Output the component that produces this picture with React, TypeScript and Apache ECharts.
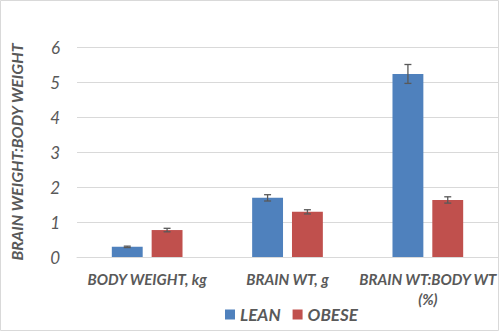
import React, { useEffect, useRef } from "react";
import * as echarts from "echarts";

const categories = ["BODY WEIGHT, kg", "BRAIN WT, g", "BRAIN WT:BODY WT\n(%)"];
const leanValues = [0.29, 1.69, 5.23];
const leanErrors = [0.02, 0.09, 0.27];
const obeseValues = [0.77, 1.29, 1.63];
const obeseErrors = [0.05, 0.06, 0.09];
const yTicks = [0, 1, 2, 3, 4, 5, 6];

const FONT = "Lato, 'Open Sans', sans-serif";
const TEXT = "#595959";
const BAR_W = 0.22;
const GAP = 0.29;

function errorSeries(values: number[], errors: number[], sign: number) {
  return {
    type: "custom",
    silent: true,
    z: 10,
    data: values.map((v, i) => [i, v - errors[i], v + errors[i]]),
    renderItem: (params: any, api: any) => {
      const idx = api.value(0);
      const lo = api.coord([idx, api.value(1)]);
      const hi = api.coord([idx, api.value(2)]);
      const bw = api.size([1, 0])[0];
      const off = (bw * BAR_W * (1 + GAP)) / 2;
      const x = lo[0] + sign * off;
      const cap = 3.5;
      const style = { stroke: "#595959", lineWidth: 1.3 };
      return {
        type: "group",
        children: [
          { type: "line", shape: { x1: x, y1: lo[1], x2: x, y2: hi[1] }, style },
          { type: "line", shape: { x1: x - cap, y1: lo[1], x2: x + cap, y2: lo[1] }, style },
          { type: "line", shape: { x1: x - cap, y1: hi[1], x2: x + cap, y2: hi[1] }, style },
        ],
      };
    },
  };
}

export default function App() {
  const ref = useRef<HTMLDivElement>(null);
  useEffect(() => {
    document.body.style.margin = "0";
    const chart = echarts.init(ref.current!, null, { renderer: "svg" });
    chart.setOption({
      animation: false,
      backgroundColor: "#ffffff",
      grid: { left: 72, right: 2, top: 47, bottom: 75 },
      legend: {
        left: 220,
        top: 301,
        itemWidth: 10,
        itemHeight: 10,
        itemGap: 12,
        icon: "rect",
        data: ["LEAN", "OBESE"],
        textStyle: { color: TEXT, fontSize: 17, fontStyle: "italic", fontWeight: "bold", fontFamily: FONT },
      },
      xAxis: {
        type: "category",
        data: categories,
        axisLine: { lineStyle: { color: "#d9d9d9" } },
        axisTick: { show: false },
        axisLabel: {
          color: TEXT,
          fontSize: 15,
          lineHeight: 20,
          fontStyle: "italic",
          fontWeight: "bold",
          fontFamily: FONT,
          margin: 12,
          interval: 0,
        },
      },
      yAxis: {
        type: "value",
        min: 0,
        max: 6,
        interval: 1,
        name: "BRAIN WEIGHT:BODY WEIGHT",
        nameLocation: "middle",
        nameGap: 53,
        nameTextStyle: { color: TEXT, fontSize: 16, fontStyle: "italic", fontWeight: "bold", fontFamily: FONT },
        axisLabel: {
          color: TEXT,
          fontSize: 17,
          fontStyle: "italic",
          fontFamily: FONT,
          margin: 17,
          formatter: (v: number) => (yTicks.includes(v) ? String(v) : ""),
        },
        splitLine: { lineStyle: { color: "#d9d9d9" } },
      },
      series: [
        {
          name: "LEAN",
          type: "bar",
          data: leanValues,
          barWidth: BAR_W * 100 + "%",
          barGap: GAP * 100 + "%",
          itemStyle: { color: "#4F81BD" },
        },
        {
          name: "OBESE",
          type: "bar",
          data: obeseValues,
          barWidth: BAR_W * 100 + "%",
          barGap: GAP * 100 + "%",
          itemStyle: { color: "#C0504D" },
        },
        errorSeries(leanValues, leanErrors, -1),
        errorSeries(obeseValues, obeseErrors, 1),
      ],
      graphic: [
        {
          type: "rect",
          shape: { x: 0.5, y: 0.5, width: 498, height: 330 },
          style: { fill: "none", stroke: "#d9d9d9", lineWidth: 1 },
          silent: true,
        },
      ],
    });
    return () => chart.dispose();
  }, []);
  return <div ref={ref} style={{ width: 500, height: 332 }} />;
}
